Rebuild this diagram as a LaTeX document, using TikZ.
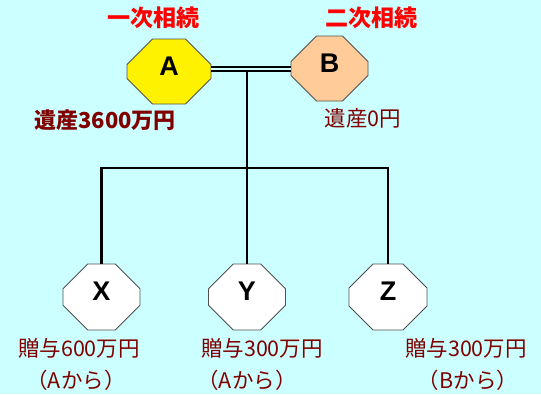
\documentclass[tikz,border=0pt]{standalone}
\usepackage{fontspec}
\setmainfont{Liberation Sans}
\newfontfamily\jp{Noto Sans CJK JP}
\usetikzlibrary{shapes.misc}
\definecolor{bgcyan}{RGB}{204,255,255}
\definecolor{peach}{RGB}{255,204,153}
\definecolor{maroon}{RGB}{128,0,0}
\definecolor{edge}{RGB}{80,80,80}
\tikzset{
  oct/.style={chamfered rectangle, chamfered rectangle angle=45,
    chamfered rectangle xsep=19pt, chamfered rectangle ysep=19pt,
    draw=edge, line width=0.8pt, inner sep=0pt,
    minimum width=77pt, minimum height=66pt,
    font=\fontsize{27}{27}\selectfont\bfseries,
    text height=19.5pt, text depth=12pt},
  title/.style={font=\jp\fontsize{23}{23}\selectfont\bfseries, text=red},
  estate/.style={font=\jp\fontsize{21.5}{21.5}\selectfont, text=maroon},
  gift/.style={font=\jp\fontsize{21.5}{21.5}\selectfont, text=maroon},
  link/.style={line width=2.7pt, black}
}
\begin{document}
\begin{tikzpicture}[x=1pt,y=-1pt]
\fill[bgcyan] (0,0) rectangle (541,394);
\useasboundingbox (0,0) rectangle (541,394);

% parents
\node[oct, fill=yellow, minimum width=84pt, minimum height=65pt] (A) at (169,71.5) {A};
\node[oct, fill=peach, minimum height=65pt] (B) at (329.5,68.5) {B};

% children
\node[oct, fill=white] (X) at (101.5,297) {X};
\node[oct, fill=white] (Y) at (247,297) {Y};
\node[oct, fill=white, minimum width=78pt] (Z) at (388,297) {Z};

% marriage line and family tree
\coordinate (wed) at (247,68.8);
\coordinate (top) at (247,71);
\coordinate (bus) at (247,168);
\draw[line width=2.2pt, double=bgcyan, double distance=2pt] (A.east |- wed) -- (B.west |- wed);
\draw[link] (top) -- (Y.north);
\draw[link, line join=miter] (X.north) -- (X.north |- bus) -- (Z.north |- bus) -- (Z.north);

% labels
\node[title] (tA) at (153,18) {一次相続};
\node[title] (tB) at (371,18) {二次相続};
\node[estate, font=\jp\fontsize{22}{22}\selectfont\bfseries] (eA) at (105,120) {遺産3600万円};
\node[estate] (eB) at (363,118) {遺産0円};

\node[gift] (gX) at (79,348) {贈与600万円};
\node[gift] (fX) at (76,380) {（Aから）};
\node[gift] (gY) at (262,348) {贈与300万円};
\node[gift] (fY) at (247,380) {（Aから）};
\node[gift] (gZ) at (466,348) {贈与300万円};
\node[gift] (fZ) at (468,380) {（Bから）};
\end{tikzpicture}
\end{document}
